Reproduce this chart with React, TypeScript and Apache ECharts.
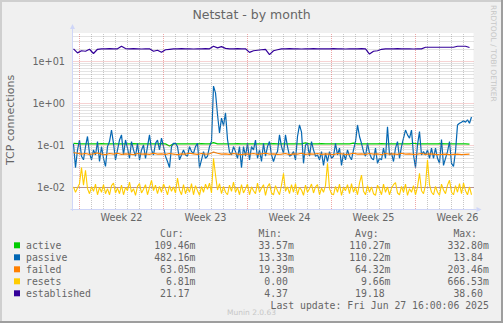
import React, { useEffect, useRef } from 'react';
import * as echarts from 'echarts';

const W = 503;
const H = 323;

// x axis: hours relative to Monday 2025-05-26 00:00 (start of Week 22)
const X_MIN = -14;
const X_MAX = 788;
const START_H = -12;
const STEP4 = 4;
const STEP8 = 8;
const WEEK_STARTS = [0, 168, 336, 504, 672];
const WEEK_LABELS = ['Week 22', 'Week 23', 'Week 24', 'Week 25', 'Week 26'];
const DAY_HOURS = 24;

const Y_MIN = 0.003119;
const Y_MAX = 47.53;
const DECADES = [0.01, 0.1, 1, 10];
const MINOR_MULT = [2, 3, 4, 5, 6, 7, 8, 9];
const MINOR_EXP = [-3, -2, -1, 0, 1];

// 4-hour samples
const passive = [
  0.11, 0.03, 0.079, 0.136, 0.056, 0.046, 0.095, 0.165, 0.066, 0.046,
  0.079, 0.06, 0.125, 0.042, 0.095, 0.05, 0.032, 0.095, 0.125, 0.235,
  0.113, 0.046, 0.079, 0.136, 0.18, 0.06, 0.136, 0.087, 0.05, 0.125,
  0.079, 0.056, 0.113, 0.046, 0.079, 0.104, 0.05, 0.095, 0.18, 0.079,
  0.06, 0.113, 0.136, 0.079, 0.15, 0.095, 0.056, 0.042, 0.03, 0.095,
  0.113, 0.113, 0.095, 0.046, 0.06, 0.079, 0.06, 0.056, 0.095, 0.072,
  0.066, 0.095, 0.113, 0.03, 0.046, 0.072, 0.05, 0.056, 0.095, 0.125,
  2.6, 1.8, 0.55, 0.2, 0.45, 0.3, 0.6, 0.14, 0.07, 0.06,
  0.095, 0.072, 0.05, 0.095, 0.03, 0.095, 0.056, 0.113, 0.046, 0.095,
  0.079, 0.136, 0.05, 0.079, 0.042, 0.113, 0.056, 0.095, 0.125, 0.06,
  0.042, 0.06, 0.072, 0.18, 0.095, 0.066, 0.18, 0.095, 0.056, 0.06,
  0.072, 0.046, 0.165, 0.31, 0.21, 0.038, 0.104, 0.113, 0.056, 0.125,
  0.079, 0.056, 0.06, 0.046, 0.072, 0.034, 0.066, 0.042, 0.072, 0.05,
  0.056, 0.113, 0.06, 0.087, 0.034, 0.066, 0.046, 0.079, 0.056, 0.046,
  0.079, 0.125, 0.31, 0.165, 0.113, 0.072, 0.056, 0.113, 0.066, 0.05,
  0.046, 0.087, 0.038, 0.05, 0.046, 0.087, 0.05, 0.28, 0.06, 0.066,
  0.042, 0.087, 0.125, 0.05, 0.095, 0.15, 0.235, 0.18, 0.15, 0.235,
  0.06, 0.03, 0.104, 0.215, 0.06, 0.072, 0.06, 0.079, 0.05, 0.087,
  0.05, 0.087, 0.05, 0.038, 0.14, 0.034, 0.05, 0.072, 0.125, 0.038,
  0.032, 0.072, 0.31, 0.34, 0.36, 0.39, 0.36, 0.41, 0.34, 0.48,
];

const resets = [
  0.0105, 0.0078, 0.0098, 0.0125, 0.03, 0.0115, 0.026, 0.0095, 0.0072, 0.0105,
  0.0082, 0.0122, 0.0068, 0.0102, 0.0078, 0.0118, 0.0072, 0.0095, 0.0068, 0.0112,
  0.0128, 0.0075, 0.0098, 0.0072, 0.0115, 0.0068, 0.0102, 0.0085, 0.0135, 0.0078,
  0.0095, 0.0066, 0.0108, 0.0125, 0.0075, 0.0092, 0.0118, 0.0068, 0.0102, 0.015,
  0.0085, 0.0115, 0.0072, 0.0108, 0.0078, 0.0122, 0.0095, 0.0068, 0.0112, 0.0082,
  0.0105, 0.0075, 0.017, 0.0088, 0.0068, 0.0118, 0.0072, 0.0102, 0.0078, 0.0125,
  0.0068, 0.0112, 0.0085, 0.0066, 0.0108, 0.0078, 0.0122, 0.0092, 0.0128, 0.0075,
  0.05, 0.02, 0.0088, 0.0125, 0.0072, 0.0108, 0.0078, 0.0068, 0.0115, 0.0082,
  0.0135, 0.0078, 0.0102, 0.0068, 0.0118, 0.0075, 0.0095, 0.0122, 0.0068, 0.0105,
  0.0085, 0.0072, 0.0128, 0.0078, 0.0098, 0.0118, 0.0066, 0.0105, 0.0125, 0.0075,
  0.0068, 0.0112, 0.0085, 0.0068, 0.0115, 0.022, 0.0082, 0.0105, 0.0072, 0.0118,
  0.0078, 0.0125, 0.0068, 0.0102, 0.0088, 0.0066, 0.0115, 0.0078, 0.0095, 0.0122,
  0.0075, 0.0105, 0.0118, 0.0068, 0.0098, 0.0078, 0.0112, 0.038, 0.0095, 0.0072,
  0.0068, 0.0108, 0.0078, 0.0122, 0.0066, 0.0102, 0.0085, 0.0118, 0.0072, 0.0125,
  0.0078, 0.0105, 0.0068, 0.0128, 0.02, 0.0082, 0.0068, 0.0112, 0.0078, 0.0105,
  0.0072, 0.0066, 0.0115, 0.0092, 0.0068, 0.0122, 0.0078, 0.0105, 0.0068, 0.0098,
  0.0118, 0.0132, 0.0075, 0.0068, 0.0108, 0.0078, 0.0122, 0.0066, 0.0095, 0.0078,
  0.0112, 0.0068, 0.0105, 0.022, 0.0085, 0.0072, 0.0115, 0.046, 0.0118, 0.0078,
  0.0068, 0.0108, 0.0078, 0.0066, 0.0122, 0.0088, 0.0072, 0.0115, 0.015, 0.0078,
  0.0068, 0.0112, 0.0078, 0.0125, 0.0072, 0.0128, 0.0085, 0.0068, 0.0105, 0.0068,
];

// 8-hour samples
const active = [
  0.113, 0.112, 0.11, 0.11, 0.111, 0.11, 0.11, 0.112, 0.11, 0.11,
  0.11, 0.111, 0.11, 0.11, 0.11, 0.112, 0.11, 0.11, 0.11, 0.111,
  0.11, 0.11, 0.112, 0.11, 0.098, 0.11, 0.11, 0.111, 0.11, 0.11,
  0.11, 0.11, 0.112, 0.11, 0.11, 0.118, 0.11, 0.111, 0.11, 0.11,
  0.11, 0.112, 0.11, 0.11, 0.11, 0.111, 0.11, 0.11, 0.11, 0.11,
  0.112, 0.11, 0.11, 0.11, 0.111, 0.11, 0.11, 0.11, 0.116, 0.11,
  0.11, 0.11, 0.112, 0.11, 0.11, 0.111, 0.11, 0.11, 0.11, 0.11,
  0.115, 0.11, 0.11, 0.111, 0.11, 0.11, 0.11, 0.112, 0.11, 0.11,
  0.11, 0.111, 0.11, 0.11, 0.11, 0.114, 0.11, 0.11, 0.11, 0.111,
  0.11, 0.11, 0.112, 0.11, 0.11, 0.11, 0.111, 0.11, 0.11, 0.109,
];

const failed = [
  0.068, 0.066, 0.063, 0.065, 0.062, 0.064, 0.067, 0.063, 0.061, 0.065,
  0.063, 0.066, 0.062, 0.064, 0.063, 0.061, 0.065, 0.063, 0.064, 0.062,
  0.066, 0.063, 0.064, 0.062, 0.065, 0.063, 0.061, 0.064, 0.063, 0.066,
  0.064, 0.062, 0.065, 0.063, 0.064, 0.07, 0.066, 0.063, 0.064, 0.062,
  0.065, 0.063, 0.061, 0.064, 0.063, 0.065, 0.062, 0.064, 0.066, 0.063,
  0.064, 0.062, 0.063, 0.065, 0.061, 0.064, 0.063, 0.066, 0.062, 0.064,
  0.063, 0.065, 0.062, 0.064, 0.063, 0.061, 0.065, 0.064, 0.062, 0.063,
  0.066, 0.063, 0.064, 0.062, 0.065, 0.063, 0.064, 0.061, 0.065, 0.063,
  0.064, 0.062, 0.066, 0.063, 0.064, 0.062, 0.063, 0.065, 0.062, 0.064,
  0.063, 0.061, 0.062, 0.063, 0.061, 0.062, 0.063, 0.061, 0.062, 0.063,
];

const established = [
  20, 16, 18, 17.5, 19.5, 15.5, 19.5, 20, 20, 20.3,
  20, 20, 23, 20.3, 20, 20.2, 20, 19.8, 20, 20,
  17.5, 18.5, 16.5, 19, 19.5, 20, 20, 20.2, 20, 20,
  19.8, 20, 20, 20.2, 20, 23, 21, 22.5, 20.5, 20,
  20, 20.2, 20, 20, 16.5, 18, 18.5, 19, 19.5, 14.5,
  18, 19, 20, 20, 20.2, 20, 20, 19.8, 20, 20,
  20.2, 20, 20, 20, 20, 20.2, 20, 20, 19.8, 20,
  20, 20, 20.2, 20, 15, 17.5, 18, 19.5, 20, 20,
  20, 20.2, 20, 20, 20, 19.8, 20, 20, 21.8, 21.8,
  21.8, 21.8, 21.8, 21.8, 21.8, 21.8, 23, 23, 23, 21.5,
];

const legendNames = ['active', 'passive', 'failed', 'resets', 'established'];
const legendColors = ['#00CC00', '#0066B3', '#FF8000', '#FFCC00', '#330099'];
const curVals = ['109.46m', '482.16m', '63.05m', '6.81m', '21.17'];
const minVals = ['33.57m', '13.33m', '19.39m', '0.00', '4.37'];
const avgVals = ['110.27m', '110.22m', '64.32m', '9.66m', '19.18'];
const maxVals = ['332.80m', '13.84', '203.46m', '666.53m', '38.60'];
const colHeads = ['Cur:', 'Min:', 'Avg:', 'Max:'];
const TITLE = 'Netstat - by month';
const Y_NAME = 'TCP connections';
const LAST_UPDATE = 'Last update: Fri Jun 27 16:00:06 2025';
const WATERMARK = 'RRDTOOL / TOBI OETIKER';
const VERSION = 'Munin 2.0.63';

const SANS = 'DejaVu Sans';
const MONO = 'DejaVu Sans Mono';
const FONT_COLOR = '#666666';
const AXIS_COLOR = '#CFD6F8';
const GRID_COLOR = 'rgba(143,143,143,0.5)';
const MGRID_COLOR = 'rgba(222,79,79,0.5)';

const GRID_LEFT = 72.5;
const GRID_TOP = 33;
const GRID_RIGHT = 29.5;
const GRID_BOTTOM = 114;

function pairs(vals: number[], step: number) {
  return vals.map((v, i) => [START_H + step * i, v]);
}

function buildOption() {
  const dash = [1, 1];
  const hLines: any[] = [];
  MINOR_EXP.forEach((e) => {
    MINOR_MULT.forEach((m) => {
      const v = m * Math.pow(10, e);
      if (v > Y_MIN && v < Y_MAX) {
        hLines.push({ yAxis: v, lineStyle: { color: GRID_COLOR, type: dash, width: 1 } });
      }
    });
  });
  DECADES.forEach((v) => {
    hLines.push({ yAxis: v, lineStyle: { color: MGRID_COLOR, type: dash, width: 1 } });
  });
  const vLines: any[] = [];
  for (let h = 0; h <= X_MAX; h += DAY_HOURS) {
    const major = WEEK_STARTS.includes(h);
    vLines.push({ xAxis: h, lineStyle: { color: major ? MGRID_COLOR : GRID_COLOR, type: dash, width: 1 } });
  }

  const weekCenters = WEEK_STARTS.map((s) => s + 84);

  const cw = 5.9;
  const colEnds = [195.5, 293.8, 390.5, 488.8];
  const cols = [curVals, minVals, avgVals, maxVals];
  const graphics: any[] = [];
  graphics.push({ type: 'rect', shape: { x: 0, y: 0, width: W, height: 2 }, style: { fill: '#CFCFCF' } });
  graphics.push({ type: 'rect', shape: { x: 0, y: 0, width: 2, height: H }, style: { fill: '#CFCFCF' } });
  graphics.push({ type: 'rect', shape: { x: 0, y: H - 2, width: W, height: 2 }, style: { fill: '#9E9E9E' } });
  graphics.push({ type: 'rect', shape: { x: W - 2, y: 0, width: 2, height: H }, style: { fill: '#9E9E9E' } });
  graphics.push({
    type: 'text', x: 251.5, y: 14,
    style: { text: TITLE, fill: FONT_COLOR, font: `12.5px "${SANS}"`, align: 'center', verticalAlign: 'middle' },
  });
  graphics.push({
    type: 'text', x: 10.5, y: 120, rotation: Math.PI / 2,
    style: { text: Y_NAME, fill: FONT_COLOR, font: `11px "${SANS}"`, align: 'center', verticalAlign: 'middle' },
  });
  graphics.push({
    type: 'text', x: 493, y: 5, rotation: -Math.PI / 2,
    style: { text: WATERMARK, fill: '#c7c7c7', font: `7.5px "${SANS}"`, align: 'left', verticalAlign: 'middle' },
  });
  graphics.push({
    type: 'text', x: 251.5, y: 312.5,
    style: { text: VERSION, fill: '#c7c7c7', font: `7.5px "${SANS}"`, align: 'center', verticalAlign: 'middle' },
  });
  const plotBottom = H - GRID_BOTTOM;
  const plotRight = W - GRID_RIGHT;
  const ax = 72.5;
  graphics.push({ type: 'line', z: 10, shape: { x1: ax, y1: plotBottom + 2, x2: ax, y2: GRID_TOP - 4 }, style: { stroke: AXIS_COLOR, lineWidth: 1 } });
  graphics.push({ type: 'polygon', z: 10, shape: { points: [[ax - 2.5, GRID_TOP - 4], [ax + 2.5, GRID_TOP - 4], [ax, GRID_TOP - 9]] }, style: { fill: AXIS_COLOR } });
  graphics.push({ type: 'line', z: 10, shape: { x1: ax - 2, y1: plotBottom + 0.5, x2: plotRight + 3, y2: plotBottom + 0.5 }, style: { stroke: AXIS_COLOR, lineWidth: 1 } });
  graphics.push({ type: 'polygon', z: 10, shape: { points: [[plotRight + 3, plotBottom - 2], [plotRight + 3, plotBottom + 3], [plotRight + 8, plotBottom + 0.5]] }, style: { fill: AXIS_COLOR } });

  const headY = 233.3;
  colHeads.forEach((t, c) => {
    graphics.push({
      type: 'text', x: colEnds[c] - 2 * cw, y: headY,
      style: { text: t, fill: FONT_COLOR, font: `9.8px "${MONO}"`, align: 'right', verticalAlign: 'middle' },
    });
  });
  legendNames.forEach((name, r) => {
    const y = 245.3 + 12 * r;
    graphics.push({ type: 'rect', shape: { x: 14, y: y - 3, width: 6, height: 6 }, style: { fill: legendColors[r] } });
    graphics.push({
      type: 'text', x: 26, y,
      style: { text: name, fill: FONT_COLOR, font: `9.8px "${MONO}"`, align: 'left', verticalAlign: 'middle' },
    });
    cols.forEach((col, c) => {
      const s = col[r];
      const hasUnit = /[a-zA-Z]$/.test(s);
      graphics.push({
        type: 'text', x: hasUnit ? colEnds[c] : colEnds[c] - cw, y,
        style: { text: s, fill: FONT_COLOR, font: `9.8px "${MONO}"`, align: 'right', verticalAlign: 'middle' },
      });
    });
  });
  graphics.push({
    type: 'text', x: colEnds[3], y: 305.3,
    style: { text: LAST_UPDATE, fill: FONT_COLOR, font: `9.8px "${MONO}"`, align: 'right', verticalAlign: 'middle' },
  });

  const lineSeries = (name: string, data: number[][], color: string, z: number, width = 1) => ({
    name, type: 'line', data, showSymbol: false, symbol: 'none', z,
    lineStyle: { color, width }, itemStyle: { color }, silent: true,
  });

  return {
    animation: false,
    backgroundColor: '#F0F0F0',
    grid: {
      left: GRID_LEFT, right: GRID_RIGHT, top: GRID_TOP, bottom: GRID_BOTTOM,
      show: true, backgroundColor: '#FFFFFF', borderWidth: 0,
    },
    xAxis: {
      type: 'value', min: X_MIN, max: X_MAX,
      axisLine: { show: false }, axisTick: { show: false }, splitLine: { show: false },
      axisLabel: {
        customValues: weekCenters,
        formatter: (v: number) => {
          const idx = weekCenters.indexOf(v);
          return idx >= 0 ? WEEK_LABELS[idx] : '';
        },
        color: FONT_COLOR, fontFamily: SANS, fontSize: 9.7, margin: 3.5,
      },
    },
    yAxis: {
      type: 'log', logBase: 10, min: Y_MIN, max: Y_MAX,
      axisLine: { show: false }, axisTick: { show: false }, splitLine: { show: false },
      axisLabel: {
        showMinLabel: false, showMaxLabel: false,
        color: FONT_COLOR, fontFamily: SANS, fontSize: 9.7, margin: 7.5,
        formatter: (v: number) => {
          const e = Math.round(Math.log10(v));
          return '1e' + (e < 0 ? '-' : '+') + String(Math.abs(e)).padStart(2, '0');
        },
      },
    },
    graphic: graphics,
    series: [
      {
        name: 'grid', type: 'line', data: [[X_MIN, 1]], showSymbol: false, symbol: 'none', z: 1,
        lineStyle: { opacity: 0 }, silent: true,
        markLine: { silent: true, symbol: 'none', label: { show: false }, animation: false, data: [...hLines, ...vLines] },
      },
      lineSeries('active', pairs(active, STEP8), legendColors[0], 2, 1.2),
      lineSeries('passive', pairs(passive, STEP4), legendColors[1], 3, 1.2),
      lineSeries('failed', pairs(failed, STEP8), legendColors[2], 4, 1.2),
      lineSeries('resets', pairs(resets, STEP4), legendColors[3], 5, 1.1),
      lineSeries('established', pairs(established, STEP8), legendColors[4], 6, 1.2),
    ],
  };
}

export default function App() {
  const ref = useRef<HTMLDivElement>(null);
  useEffect(() => {
    document.body.style.margin = '0';
    const chart = echarts.init(ref.current!, null, { renderer: 'svg', width: W, height: H });
    chart.setOption(buildOption() as any);
    return () => chart.dispose();
  }, []);
  return <div ref={ref} style={{ width: W, height: H }} />;
}
